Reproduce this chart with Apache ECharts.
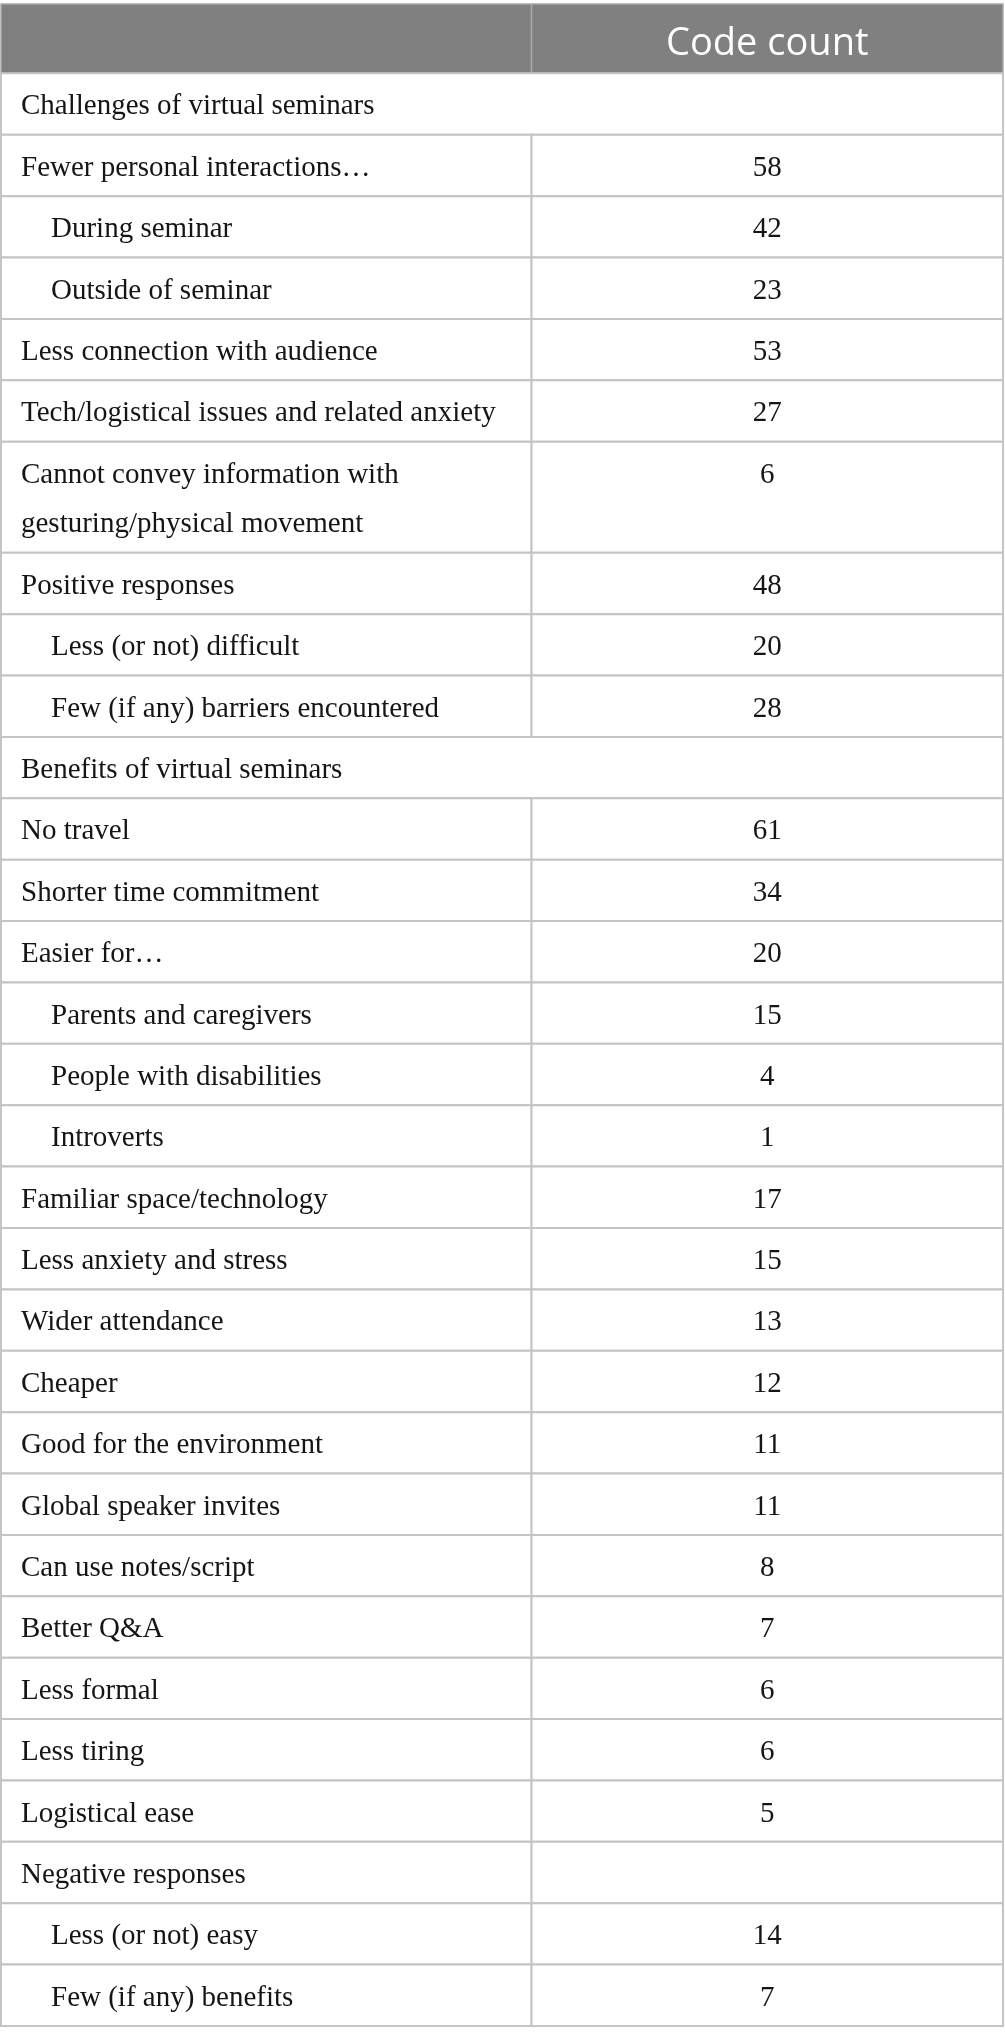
<!DOCTYPE html>
<html>
<head>
<meta charset="utf-8">
<script src="https://cdn.jsdelivr.net/npm/echarts@6/dist/echarts.min.js"></script>
<style>
  html, body { margin: 0; padding: 0; background: #fff; }
  #table-chart { width: 1005px; height: 2042px; }
</style>
</head>
<body>
<div id="table-chart"></div>
<script>
// column headings
var headerLabels = ['', 'Code count'];

// row labels (\n = wrapped line in the cell)
var rowLabels = [
  'Challenges of virtual seminars',
  'Fewer personal interactions\u2026',
  'During seminar',
  'Outside of seminar',
  'Less connection with audience',
  'Tech/logistical issues and related anxiety',
  'Cannot convey information with\ngesturing/physical movement',
  'Positive responses',
  'Less (or not) difficult',
  'Few (if any) barriers encountered',
  'Benefits of virtual seminars',
  'No travel',
  'Shorter time commitment',
  'Easier for\u2026',
  'Parents and caregivers',
  'People with disabilities',
  'Introverts',
  'Familiar space/technology',
  'Less anxiety and stress',
  'Wider attendance',
  'Cheaper',
  'Good for the environment',
  'Global speaker invites',
  'Can use notes/script',
  'Better Q&A',
  'Less formal',
  'Less tiring',
  'Logistical ease',
  'Negative responses',
  'Less (or not) easy',
  'Few (if any) benefits'
];

var codeCounts = [
  null, 58, 42, 23, 53, 27, 6, 48, 20, 28,
  null, 61, 34, 20, 15, 4, 1, 17, 15, 13, 12, 11, 11, 8, 7, 6, 6, 5,
  null, 14, 7
];

// 0 = top level, 1 = sub-item
var indentLevels = [
  0, 0, 1, 1, 0, 0, 0, 0, 1, 1,
  0, 0, 0, 0, 1, 1, 1, 0, 0, 0, 0, 0, 0, 0, 0, 0, 0, 0,
  0, 1, 1
];

// headings that run across both columns
var sectionRows = ['Challenges of virtual seminars', 'Benefits of virtual seminars'];

// layout (in row units on the y axis)
var HEADER_UNITS = 1.13;
var EXTRA_LINE_UNITS = 0.81;
var SPLIT = 0.5295;
var BORDER = '#c4c4c4';

var rowStarts = [];
var acc = HEADER_UNITS;
rowLabels.forEach(function (label) {
  var lines = label.split('\n').length;
  var h = 1 + (lines - 1) * EXTRA_LINE_UNITS;
  rowStarts.push([acc, acc + h]);
  acc += h;
});
var totalUnits = acc;

var bodyData = rowLabels.map(function (label, i) {
  return [rowStarts[i][0], rowStarts[i][1], i];
});

var chart = echarts.init(document.getElementById('table-chart'), null, { renderer: 'canvas' });

function renderHeader(params, api) {
  var tl = api.coord([0, 0]);
  var mid = api.coord([SPLIT, HEADER_UNITS]);
  var br = api.coord([1, HEADER_UNITS]);
  return {
    type: 'group',
    children: [
      { type: 'rect', shape: { x: tl[0], y: tl[1], width: mid[0] - tl[0], height: mid[1] - tl[1] },
        style: { fill: '#808080', stroke: '#a9a9a9', lineWidth: 1.5 } },
      { type: 'rect', shape: { x: mid[0], y: tl[1], width: br[0] - mid[0], height: br[1] - tl[1] },
        style: { fill: '#808080', stroke: '#a9a9a9', lineWidth: 1.5 } },
      { type: 'text', x: (mid[0] + br[0]) / 2, y: (tl[1] + br[1]) / 2 + 5,
        style: { text: headerLabels[1], fill: '#ffffff', font: '38px "Open Sans", sans-serif',
                 align: 'center', verticalAlign: 'middle' } }
    ]
  };
}

function renderRow(params, api) {
  var idx = api.value(2);
  var label = rowLabels[idx];
  var count = codeCounts[idx];
  var top = api.coord([0, api.value(0)]);
  var bot = api.coord([1, api.value(1)]);
  var mid = api.coord([SPLIT, api.value(0)]);
  var spans = sectionRows.indexOf(label) >= 0;
  var children = [];
  if (spans) {
    children.push({ type: 'rect', shape: { x: top[0], y: top[1], width: bot[0] - top[0], height: bot[1] - top[1] },
      style: { fill: '#fff', stroke: BORDER, lineWidth: 2 } });
  } else {
    children.push({ type: 'rect', shape: { x: top[0], y: top[1], width: mid[0] - top[0], height: bot[1] - top[1] },
      style: { fill: '#fff', stroke: BORDER, lineWidth: 2 } });
    children.push({ type: 'rect', shape: { x: mid[0], y: top[1], width: bot[0] - mid[0], height: bot[1] - top[1] },
      style: { fill: '#fff', stroke: BORDER, lineWidth: 2 } });
  }
  var textFont = '29px "Liberation Serif", "DejaVu Serif", serif';
  children.push({ type: 'text', x: top[0] + 20 + indentLevels[idx] * 30, y: top[1] + 9,
    style: { text: label, fill: '#151515', font: textFont, lineHeight: 49,
             align: 'left', verticalAlign: 'top' } });
  if (count != null) {
    children.push({ type: 'text', x: (mid[0] + bot[0]) / 2, y: top[1] + 9,
      style: { text: String(count), fill: '#151515', font: textFont, lineHeight: 49,
               align: 'center', verticalAlign: 'top' } });
  }
  return { type: 'group', children: children };
}

chart.setOption({
  animation: false,
  backgroundColor: '#ffffff',
  grid: { left: 1, right: 2, top: 4, bottom: 16 },
  xAxis: { type: 'value', min: 0, max: 1, show: false },
  yAxis: { type: 'value', min: 0, max: totalUnits, inverse: true, show: false },
  series: [
    {
      type: 'custom',
      name: 'header',
      renderItem: renderHeader,
      encode: { x: 0, y: 1 },
      data: [[0, 0]]
    },
    {
      type: 'custom',
      name: 'rows',
      renderItem: renderRow,
      encode: { y: [0, 1] },
      data: bodyData
    }
  ]
});
</script>
</body>
</html>
